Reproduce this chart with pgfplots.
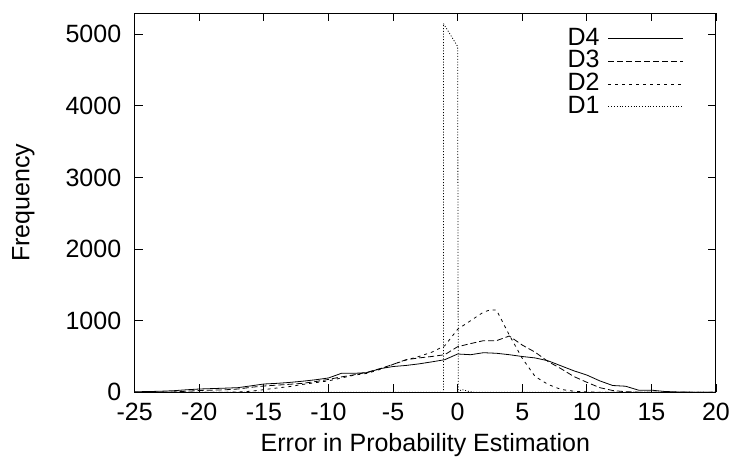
\documentclass[border=0pt]{standalone}
\usepackage{pgfplots}
\pgfplotsset{compat=1.18}
\usepackage{fontspec}
\setmainfont{Liberation Sans}
\begin{document}
\begin{tikzpicture}[x=1pt,y=1pt]
\useasboundingbox (0,0) rectangle (734,464);
\begin{axis}[
  at={(134.7pt,71.7pt)}, anchor=south west,
  scale only axis, width=581.3pt, height=379pt,
  xmin=-25, xmax=20, ymin=0, ymax=5293,
  xtick={-25,-20,...,20}, ytick={0,1000,...,5000},
  tick align=inside, major tick length=8pt,
  tick style={black, line width=0.8pt},
  axis line style={black, line width=1pt},
  /pgf/number format/assume math mode=true,
  /pgf/number format/set thousands separator={},
  ticklabel style={font=\fontsize{25}{30}\selectfont},
  yticklabel style={xshift=-10pt},
  xticklabel style={yshift=-7.4pt},
  label style={font=\fontsize{25}{30}\selectfont},
  xlabel={Error in Probability Estimation},
  xlabel style={at={(axis description cs:0.5,0)}, anchor=north, inner sep=0pt, yshift=-40.7pt},
  ylabel={Frequency},
  ylabel style={at={(axis description cs:0,0.5)}, anchor=north, inner sep=0pt, yshift=122.7pt},
  legend plot pos=right,
  legend cell align=right,
  legend image code/.code={\draw[#1] (0pt,0pt) -- (75pt,0pt);},
  legend style={at={(axis description cs:1,1)}, anchor=north east, xshift=-29pt, yshift=-12.2pt,
    draw=none, fill=none, font=\fontsize{25}{30}\selectfont,
    inner xsep=3pt, inner ysep=2pt,
    nodes={inner sep=0.5pt, text height=17pt, text depth=4pt},
    row sep=0.7pt, column sep=8pt},
]
\addplot[black, line width=0.8pt] coordinates {
(-25,8) (-24,10) (-23,15) (-22,22) (-21,35) (-20,46) (-19,52) (-18,58) (-17,65) (-16,90)
(-15,116) (-14,125) (-13,138) (-12,155) (-11,175) (-10,200) (-9,265) (-8,265) (-7,275) (-6,330)
(-5,360) (-4,375) (-3,397) (-2,425) (-1,455) (0,535) (1,525) (2,553) (3,545) (4,525)
(5,500) (6,480) (7,440) (8,370) (9,300) (10,241) (11,160) (12,95) (13,85) (14,30)
(15,30) (16,12) (17,5) (18,2) (19,0) (20,0)};
\addlegendentry{D4}
\addplot[black, line width=0.8pt, dash pattern=on 6pt off 3pt] coordinates {
(-25,0) (-23,2) (-22,5) (-21,15) (-20,25) (-19,30) (-18,35) (-17,46) (-16,70)
(-15,88) (-14,100) (-13,112) (-12,125) (-11,150) (-10,180) (-9,215) (-8,245) (-7,280) (-6,330)
(-5,390) (-4,455) (-3,480) (-2,500) (-1,525) (0,637) (1,680) (2,721) (3,721) (4,786)
(5,660) (6,560) (7,430) (8,330) (9,220) (10,140) (11,65) (12,25) (13,8) (14,2) (15,0) (20,0)};
\addlegendentry{D3}
\addplot[black, line width=0.8pt, dash pattern=on 3pt off 4pt] coordinates {
(-25,0) (-18,0) (-17,5) (-16,15) (-15,37) (-14,60) (-13,80) (-12,110) (-11,135) (-10,160)
(-9,200) (-8,240) (-7,265) (-6,320) (-5,390) (-4,450) (-3,500) (-2,560) (-1,650)
(0,880) (1,1000) (2,1120) (2.5,1150) (3,1150) (4,800) (5,475) (6,220) (7,110) (8,40)
(9,15) (10,5) (11,0) (20,0)};
\addlegendentry{D2}
\addplot[black, line width=0.8pt, dash pattern=on 1pt off 1.8pt] coordinates {
(-25,0) (-1.1,0) (-1.1,5150) (0,4830) (0.05,0) (0.3,40) (0.8,15) (1.3,0) (20,0)};
\addlegendentry{D1}
\end{axis}
\end{tikzpicture}
\end{document}
